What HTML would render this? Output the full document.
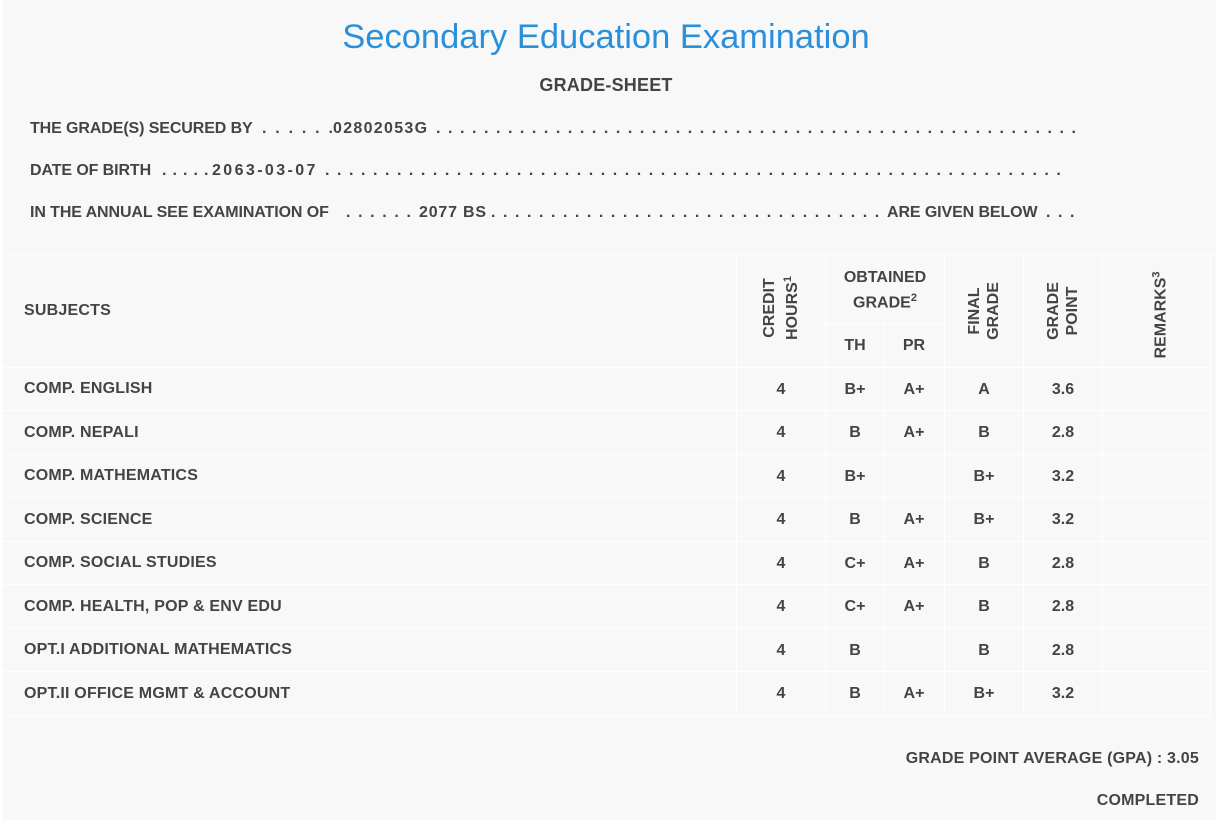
<!DOCTYPE html>
<html><head><meta charset="utf-8"><style>
body{margin:0;width:1219px;height:825px;background:#fff;font-family:"Liberation Sans",sans-serif;color:#444;position:relative;overflow:hidden}
.bg{position:absolute;left:3px;top:0;width:1213px;height:820px;background:#f8f8f8}
.t{position:absolute;font-weight:bold;font-size:16px;white-space:nowrap;letter-spacing:0.2px}
.i{letter-spacing:-0.1px}
.d{position:absolute;font-weight:bold;font-size:16px;white-space:nowrap;letter-spacing:1.55px}
.c{position:absolute;font-weight:bold;font-size:16px;text-align:center;transform:translateX(-50%)}
.hl{position:absolute;height:1px;background:#fff}
.vl{position:absolute;width:1px;background:#fff}
.rot{position:absolute;font-weight:bold;font-size:16px;text-align:center;line-height:19px;transform:translate(-50%,-50%) rotate(-90deg)}
</style></head><body>
<div class="bg"></div>
<div style="position:absolute;left:0;width:1212px;top:18px;text-align:center;font-size:34.5px;color:#2b90db">Secondary Education Examination</div>
<div class="t" style="left:0;width:1212px;text-align:center;top:75px;font-size:18px">GRADE-SHEET</div>

<div class="t i" style="left:30px;top:120px">THE GRADE(S) SECURED BY</div>
<div class="d" style="left:262px;top:120px;letter-spacing:2.2px">. . . . . .</div>
<div class="t" style="left:333px;top:120px;letter-spacing:1.3px">02802053G</div>
<div class="d" style="left:436px;top:120px">. . . . . . . . . . . . . . . . . . . . . . . . . . . . . . . . . . . . . . . . . . . . . . . . . . . . . .</div>

<div class="t i" style="left:30px;top:162px">DATE OF BIRTH</div>
<div class="d" style="left:162px;top:162px;letter-spacing:0.8px">. . . . .</div>
<div class="t" style="left:212px;top:162px;letter-spacing:2.4px">2063-03-07</div>
<div class="d" style="left:325px;top:162px">. . . . . . . . . . . . . . . . . . . . . . . . . . . . . . . . . . . . . . . . . . . . . . . . . . . . . . . . . . . . . .</div>

<div class="t i" style="left:30px;top:204px">IN THE ANNUAL SEE EXAMINATION OF</div>
<div class="d" style="left:346px;top:204px;letter-spacing:1.6px">. . . . . .</div>
<div class="t" style="left:419px;top:204px;letter-spacing:0.8px">2077 BS</div>
<div class="d" style="left:491px;top:204px">. . . . . . . . . . . . . . . . . . . . . . . . . . . . . . . . .</div>
<div class="t i" style="left:887px;top:204px">ARE GIVEN BELOW</div>
<div class="d" style="left:1046px;top:204px">. . .</div>

<div class="hl" style="left:3px;width:1210px;top:254px"></div>
<div class="hl" style="left:825px;width:119px;top:323px"></div>
<div class="hl" style="left:3px;width:1210px;top:367px"></div>
<div class="hl" style="left:3px;width:1210px;top:410px"></div>
<div class="hl" style="left:3px;width:1210px;top:454px"></div>
<div class="hl" style="left:3px;width:1210px;top:497px"></div>
<div class="hl" style="left:3px;width:1210px;top:541px"></div>
<div class="hl" style="left:3px;width:1210px;top:584px"></div>
<div class="hl" style="left:3px;width:1210px;top:628px"></div>
<div class="hl" style="left:3px;width:1210px;top:671px"></div>
<div class="hl" style="left:3px;width:1210px;top:715px"></div>
<div class="vl" style="left:736px;top:254px;height:461px"></div>
<div class="vl" style="left:825px;top:254px;height:461px"></div>
<div class="vl" style="left:884px;top:323px;height:392px"></div>
<div class="vl" style="left:944px;top:254px;height:461px"></div>
<div class="vl" style="left:1023px;top:254px;height:461px"></div>
<div class="vl" style="left:1102px;top:254px;height:461px"></div>
<div class="vl" style="left:1210px;top:254px;height:461px"></div>

<div class="t" style="left:24px;top:302px">SUBJECTS</div>
<div class="rot" style="left:781px;top:308px">CREDIT<br>HOURS<sup style="font-size:11px">1</sup></div>
<div class="c" style="left:885px;top:268px;line-height:20px">OBTAINED<br>GRADE<sup style="font-size:11px">2</sup></div>
<div class="c" style="left:855px;top:337px">TH</div>
<div class="c" style="left:914px;top:337px">PR</div>
<div class="rot" style="left:984px;top:311px">FINAL<br>GRADE</div>
<div class="rot" style="left:1063px;top:311px">GRADE<br>POINT</div>
<div class="rot" style="left:1159px;top:315px">REMARKS<sup style="font-size:11px">3</sup></div>

<div class="t" style="left:24px;top:380px">COMP. ENGLISH</div>
<div class="t" style="left:24px;top:424px">COMP. NEPALI</div>
<div class="t" style="left:24px;top:467px">COMP. MATHEMATICS</div>
<div class="t" style="left:24px;top:511px">COMP. SCIENCE</div>
<div class="t" style="left:24px;top:554px">COMP. SOCIAL STUDIES</div>
<div class="t" style="left:24px;top:598px">COMP. HEALTH, POP &amp; ENV EDU</div>
<div class="t" style="left:24px;top:641px">OPT.I ADDITIONAL MATHEMATICS</div>
<div class="t" style="left:24px;top:685px">OPT.II OFFICE MGMT &amp; ACCOUNT</div>

<div class="c" style="left:781px;top:381px">4</div><div class="c" style="left:855px;top:381px">B+</div><div class="c" style="left:914px;top:381px">A+</div><div class="c" style="left:984px;top:381px">A</div><div class="c" style="left:1063px;top:381px">3.6</div>
<div class="c" style="left:781px;top:424px">4</div><div class="c" style="left:855px;top:424px">B</div><div class="c" style="left:914px;top:424px">A+</div><div class="c" style="left:984px;top:424px">B</div><div class="c" style="left:1063px;top:424px">2.8</div>
<div class="c" style="left:781px;top:468px">4</div><div class="c" style="left:855px;top:468px">B+</div><div class="c" style="left:984px;top:468px">B+</div><div class="c" style="left:1063px;top:468px">3.2</div>
<div class="c" style="left:781px;top:511px">4</div><div class="c" style="left:855px;top:511px">B</div><div class="c" style="left:914px;top:511px">A+</div><div class="c" style="left:984px;top:511px">B+</div><div class="c" style="left:1063px;top:511px">3.2</div>
<div class="c" style="left:781px;top:555px">4</div><div class="c" style="left:855px;top:555px">C+</div><div class="c" style="left:914px;top:555px">A+</div><div class="c" style="left:984px;top:555px">B</div><div class="c" style="left:1063px;top:555px">2.8</div>
<div class="c" style="left:781px;top:598px">4</div><div class="c" style="left:855px;top:598px">C+</div><div class="c" style="left:914px;top:598px">A+</div><div class="c" style="left:984px;top:598px">B</div><div class="c" style="left:1063px;top:598px">2.8</div>
<div class="c" style="left:781px;top:642px">4</div><div class="c" style="left:855px;top:642px">B</div><div class="c" style="left:984px;top:642px">B</div><div class="c" style="left:1063px;top:642px">2.8</div>
<div class="c" style="left:781px;top:685px">4</div><div class="c" style="left:855px;top:685px">B</div><div class="c" style="left:914px;top:685px">A+</div><div class="c" style="left:984px;top:685px">B+</div><div class="c" style="left:1063px;top:685px">3.2</div>

<div class="t" style="right:20px;top:750px">GRADE POINT AVERAGE (GPA) : 3.05</div>
<div class="t" style="right:20px;top:792px">COMPLETED</div>
</body></html>
